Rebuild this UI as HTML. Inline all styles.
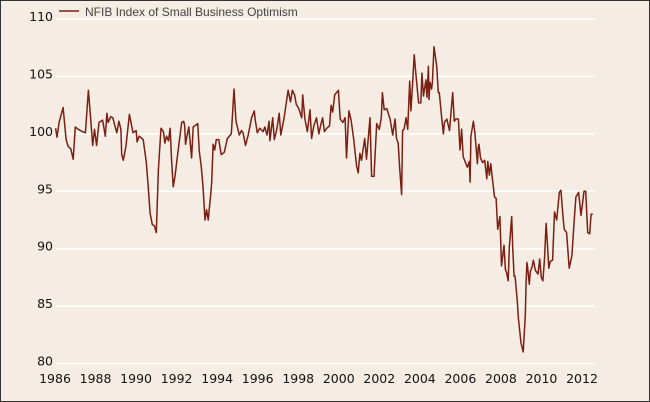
<!DOCTYPE html>
<html><head><meta charset="utf-8">
<style>
html,body{margin:0;padding:0;background:#f5ede4;}
svg{display:block;}
</style></head>
<body>
<svg id="chart" width="650" height="402" xmlns="http://www.w3.org/2000/svg">
<rect x="0.5" y="0.5" width="649" height="401" fill="#f5ede4" stroke="#333" stroke-width="1"/>
<g id="grid"></g>
<g id="ylab"></g>
<g id="xlab"></g>
<g>
<line x1="59" y1="11" x2="79" y2="11" stroke="#7a1f12" stroke-width="1.6"/>
<text x="85" y="16" font-family="Liberation Sans, sans-serif" font-size="12" fill="#444">NFIB Index of Small Business Optimism</text>
</g>
<path id="line" fill="none" stroke="#7a1f12" stroke-width="1.5" stroke-linejoin="round"/>
</svg>
<script>
const yTicks=[80,85,90,95,100,105,110];
const xTicks=[1986,1988,1990,1992,1994,1996,1998,2000,2002,2004,2006,2008,2010,2012];
const dates=[1986.03,1986.1,1986.2,1986.4,1986.55,1986.65,1986.78,1986.9,1987.0,1987.15,1987.35,1987.5,1987.65,1987.75,1987.86,1987.95,1988.05,1988.17,1988.35,1988.48,1988.56,1988.62,1988.75,1988.85,1989.05,1989.15,1989.25,1989.29,1989.37,1989.5,1989.67,1989.85,1990.0,1990.05,1990.15,1990.35,1990.5,1990.58,1990.69,1990.8,1990.9,1991.0,1991.1,1991.23,1991.35,1991.42,1991.5,1991.6,1991.68,1991.75,1991.83,1991.92,1992.05,1992.25,1992.35,1992.4,1992.44,1992.52,1992.6,1992.74,1992.82,1993.04,1993.12,1993.22,1993.3,1993.4,1993.48,1993.56,1993.68,1993.73,1993.8,1993.88,1993.96,1994.08,1994.2,1994.35,1994.5,1994.7,1994.76,1994.83,1994.93,1995.09,1995.2,1995.28,1995.4,1995.53,1995.7,1995.83,1995.87,1995.98,1996.1,1996.27,1996.35,1996.46,1996.56,1996.6,1996.74,1996.82,1996.94,1997.06,1997.14,1997.3,1997.5,1997.62,1997.71,1997.82,1997.9,1998.03,1998.17,1998.22,1998.33,1998.45,1998.58,1998.66,1998.77,1998.9,1999.02,1999.1,1999.2,1999.29,1999.41,1999.54,1999.62,1999.7,1999.8,1999.98,2000.07,2000.2,2000.31,2000.38,2000.5,2000.61,2000.73,2000.88,2000.96,2001.04,2001.12,2001.28,2001.37,2001.54,2001.62,2001.74,2001.87,2002.0,2002.1,2002.15,2002.24,2002.37,2002.53,2002.66,2002.78,2002.85,2002.93,2003.0,2003.1,2003.15,2003.22,2003.32,2003.4,2003.5,2003.56,2003.64,2003.72,2003.8,2003.94,2004.05,2004.1,2004.18,2004.3,2004.35,2004.42,2004.45,2004.5,2004.58,2004.62,2004.7,2004.83,2004.91,2004.96,2005.08,2005.16,2005.21,2005.33,2005.46,2005.62,2005.7,2005.78,2005.9,2005.98,2006.06,2006.14,2006.34,2006.44,2006.48,2006.52,2006.64,2006.72,2006.84,2006.88,2006.92,2006.99,2007.1,2007.2,2007.3,2007.35,2007.43,2007.5,2007.56,2007.68,2007.76,2007.84,2007.95,2008.03,2008.15,2008.22,2008.28,2008.36,2008.41,2008.53,2008.58,2008.65,2008.7,2008.81,2008.86,2008.99,2009.1,2009.2,2009.24,2009.28,2009.32,2009.4,2009.45,2009.53,2009.6,2009.7,2009.83,2009.91,2009.99,2010.07,2010.15,2010.23,2010.28,2010.36,2010.43,2010.55,2010.64,2010.75,2010.88,2010.96,2011.07,2011.12,2011.24,2011.37,2011.5,2011.62,2011.7,2011.83,2011.95,2012.1,2012.18,2012.28,2012.38,2012.45,2012.53,2012.6];
const values=[100.5,99.7,101,102.3,99.5,98.9,98.7,97.8,100.6,100.4,100.2,100.1,103.8,101.5,99.0,100.4,99.0,101,101.2,99.8,101.8,101,101.5,101.4,100.1,101.1,100.4,98.2,97.7,98.9,101.7,100.1,100.3,99.3,99.8,99.5,97.6,95.9,93.1,92.1,92.0,91.4,96.9,100.5,100.2,99.2,99.8,99.4,100.5,97.7,95.4,96.3,98.2,101,101.1,100.7,99.1,99.9,100.6,97.9,100.6,100.9,98.5,97.1,95.4,92.5,93.4,92.5,94.7,95.8,99.1,98.6,99.5,99.5,98.2,98.4,99.6,100,101.8,103.9,101.1,99.9,100.3,100.1,99.0,99.9,101.4,102.0,101.3,100.1,100.5,100.2,100.6,99.9,101.1,99.4,101.4,99.5,100.4,101.8,99.9,101.4,103.8,102.8,103.8,103.4,102.6,102.2,101.4,103.4,101.3,100.2,102.1,99.6,100.7,101.4,100.0,100.7,101.4,100.2,100.5,100.7,102.5,101.9,103.4,103.8,101.3,101.0,101.4,97.9,102,101.2,99.6,97.2,96.6,98.3,97.7,99.6,97.8,101.4,96.3,96.3,100.9,100.4,101.4,103.6,102.1,102.2,101.3,99.9,101.3,99.6,99.2,97.1,94.7,100.3,100.4,101.4,100.4,104.6,102.0,104.4,106.9,105.3,102.7,102.7,105.3,103.3,104.7,103.2,105.9,103.0,104.5,103.9,104.5,107.6,105.9,103.6,103.6,101.3,100,101,101.3,100.3,103.6,101.1,101.3,101.3,98.6,100.4,98.0,97.1,97.6,95.8,99.8,101.1,100,97.4,98.8,99.1,97.9,97.5,97.7,96.1,97.6,96.4,97.4,96.4,94.5,94.4,91.7,92.8,88.5,90.3,88.2,87.9,87.2,90.1,92.8,90.1,87.6,87.6,85.3,83.9,81.8,81.0,84.2,87.1,88.8,88.3,86.9,88.0,88.4,89,88.1,87.8,89.1,87.5,87.2,89.1,92.2,90.7,88.3,88.9,89,93.2,92.5,94.9,95.1,92.6,91.7,91.4,88.3,89.4,92.6,94.5,94.9,92.9,95,95,91.4,91.3,93,93];
const X0=55, PXY=20.27, Y80=363.5, PXU=11.48;
function xs(yr){return X0+(yr-1986)*PXY;}
function ys(v){return Y80-(v-80)*PXU;}
const NS='http://www.w3.org/2000/svg';
const grid=document.getElementById('grid'), ylab=document.getElementById('ylab'), xlab=document.getElementById('xlab');
yTicks.forEach(t=>{
  const l=document.createElementNS(NS,'line');
  
  
  l.setAttribute('x1',56);l.setAttribute('x2',595);
  l.setAttribute('y1',ys(t));l.setAttribute('y2',ys(t));
  l.setAttribute('stroke','#ffffff');l.setAttribute('stroke-width','1.5');
  grid.appendChild(l);
  const tx=document.createElementNS(NS,'text');
  
  
  tx.setAttribute('x',53);tx.setAttribute('y',ys(t)+2);
  tx.setAttribute('text-anchor','end');
  tx.setAttribute('font-family','DejaVu Sans, sans-serif');
  tx.setAttribute('font-size','12.5');tx.setAttribute('fill','#111');
  tx.textContent=t;
  ylab.appendChild(tx);
});
xTicks.forEach(t=>{
  const tx=document.createElementNS(NS,'text');
  
  
  tx.setAttribute('x',xs(t));tx.setAttribute('y',383);
  tx.setAttribute('text-anchor','middle');
  tx.setAttribute('font-family','DejaVu Sans, sans-serif');
  tx.setAttribute('font-size','12.5');tx.setAttribute('fill','#111');
  tx.textContent=t;
  xlab.appendChild(tx);
});
let d='';
dates.forEach((yr,i)=>{d+=(i?'L':'M')+xs(yr).toFixed(1)+' '+ys(values[i]).toFixed(1);});
document.getElementById('line').setAttribute('d',d);
</script>
</body></html>
